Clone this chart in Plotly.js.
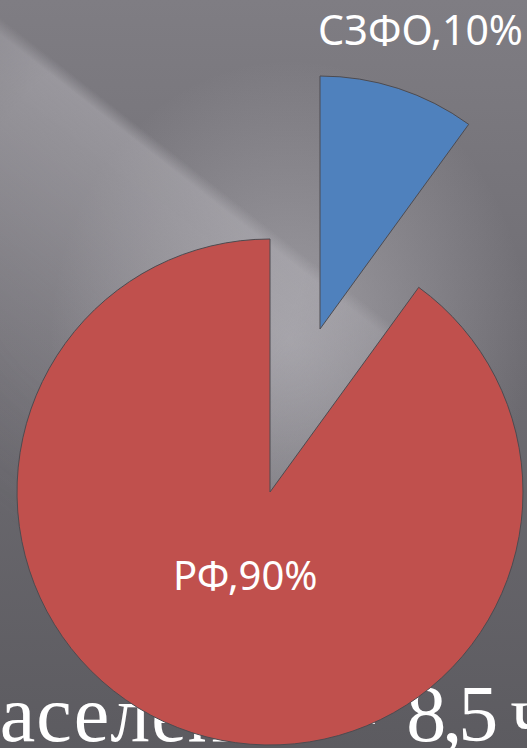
<!DOCTYPE html>
<html>
<head>
<meta charset="utf-8">
<script src="https://cdn.plot.ly/plotly-3.0.1.min.js"></script>
<style>
  html, body { margin: 0; padding: 0; width: 527px; height: 748px; overflow: hidden; }
  body {
    position: relative;
    background:
      radial-gradient(ellipse 240px 280px at 290px 340px, rgba(205,203,209,0.5) 0%, rgba(205,203,209,0) 100%),
      linear-gradient(180deg, #7f7d83 0%, #6f6d73 45%, #5c5b60 100%);
  }
  #band {
    position: absolute; left: 0; top: 0; width: 527px; height: 748px;
    background: linear-gradient(218deg, rgba(175,173,179,0) 37%, rgba(178,176,182,0.55) 38.5%, rgba(172,170,176,0.3) 58%, rgba(170,168,174,0) 80%);
    -webkit-mask-image: radial-gradient(ellipse 420px 460px at 140px 230px, #000 40%, rgba(0,0,0,0) 100%);
    mask-image: radial-gradient(ellipse 420px 460px at 140px 230px, #000 40%, rgba(0,0,0,0) 100%);
  }
  #bgtext {
    position: absolute; left: -44px; top: 664px;
    font-family: "Liberation Serif", "DejaVu Serif", serif;
    font-size: 80px; line-height: 100px; color: #ffffff; white-space: nowrap;
  }
  #bgtext .a { letter-spacing: 1px; }
  #bgtext .b { letter-spacing: -4px; margin-left: 15px; }
  #chart { position: absolute; left: 0; top: 0; width: 600px; height: 748px; }
</style>
</head>
<body>
<div id="band"></div>
<div id="bgtext"><span class="a">населения –</span><span class="b"> 8,5 ч</span></div>
<div id="chart"></div>
<script>
const labels = ["СЗФО", "РФ"];
const values = [10, 90];
const sliceColors = ["#4f81bd", "#c0504d"];

const W = 600, H = 748, R = 253;
function dom(cx, cy) {
  return {
    x: [(cx - R) / W, (cx + R) / W],
    y: [(H - cy - R) / H, (H - cy + R) / H]
  };
}
const clear = "rgba(0,0,0,0)";
const edge = "#4d4b50";

// main pie (РФ) with СЗФО slot left empty
const redTrace = {
  type: "pie", labels: labels, values: values, sort: false,
  direction: "clockwise", rotation: 0, textinfo: "none", hoverinfo: "label+percent",
  marker: { colors: [clear, sliceColors[1]], line: { color: [clear, edge], width: [0, 1] } },
  domain: dom(270, 492), showlegend: false
};
// pulled-out СЗФО slice
const blueTrace = {
  type: "pie", labels: labels, values: values, sort: false,
  direction: "clockwise", rotation: 0, textinfo: "none", hoverinfo: "label+percent",
  marker: { colors: [sliceColors[0], clear], line: { color: [edge, clear], width: [1, 0] } },
  domain: dom(320, 329), showlegend: false
};

const total = values.reduce((a, b) => a + b, 0);
const labelText = labels.map((l, i) => l + "," + Math.round(values[i] / total * 100) + "%");
const labelPos = [[420, 29], [245, 574]];
const labelSize = [41, 40];

const annotations = labelText.map((t, i) => ({
  text: t, xref: "paper", yref: "paper",
  x: labelPos[i][0] / W, y: 1 - labelPos[i][1] / H,
  xanchor: "center", yanchor: "middle", showarrow: false,
  font: { family: "Noto Sans", size: labelSize[i], color: "#ffffff" }
}));

const layout = {
  width: W, height: H,
  margin: { l: 0, r: 0, t: 0, b: 0 },
  paper_bgcolor: clear, plot_bgcolor: clear,
  annotations: annotations, showlegend: false
};

Plotly.newPlot("chart", [redTrace, blueTrace], layout, { displayModeBar: false, staticPlot: true });
</script>
</body>
</html>
